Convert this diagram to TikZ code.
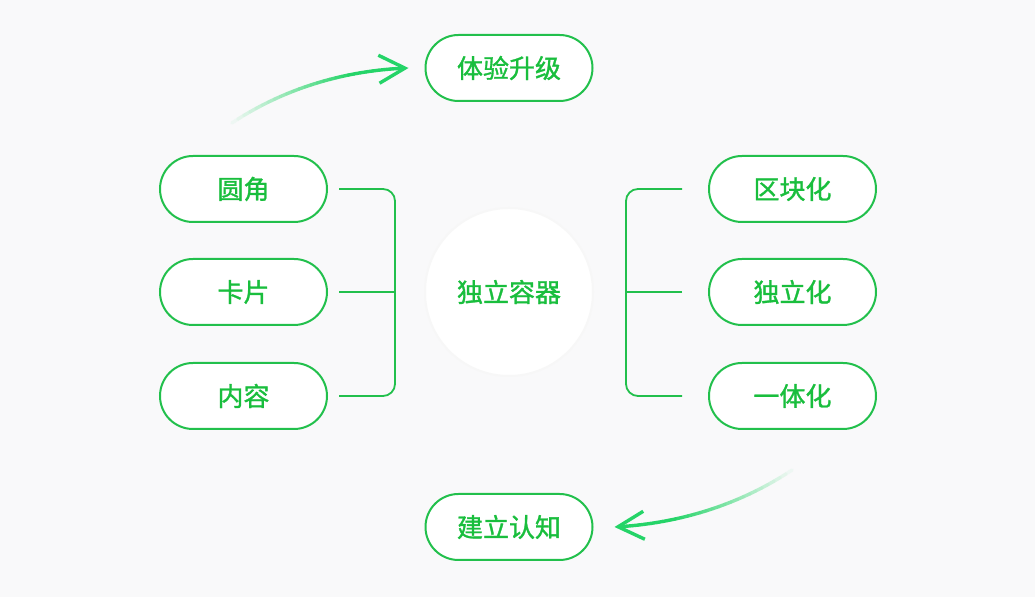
\documentclass[tikz,border=0pt]{standalone}
\usepackage{fontspec}
\newfontfamily\cjk[AutoFakeBold=1.2]{Noto Sans CJK SC}
\usetikzlibrary{arrows.meta}
\definecolor{bg}{HTML}{F9F9FA}
\definecolor{leaf}{HTML}{22C04C}
\definecolor{ink}{HTML}{19BE3D}
\definecolor{mint}{HTML}{25D468}

\begin{document}
\begin{tikzpicture}[x=0.5pt, y=-0.5pt, font=\cjk\bfseries\fontsize{13}{15}\selectfont]
    % Set up styles for the boxes and lines
    \tikzstyle{pill} = [draw=leaf, line width=1pt, fill=white, text=ink, minimum width=83.5pt, minimum height=33pt, rounded corners=16.5pt, inner sep=0pt]
    \tikzstyle{hub} = [circle, fill=white, draw=black!3, line width=1pt, text=ink, minimum size=84pt, inner sep=0pt]
    \tikzstyle{bracket} = [leaf, line width=0.9pt, rounded corners=6pt]
    \tikzstyle{sweep} = [line width=1.7pt, line cap=round]

    % Background
    \fill[bg] (0,0) rectangle (1035,597);
    \useasboundingbox (0,0) rectangle (1035,597);

    % The centre
    \node[hub] (core) at (509,292) {独立容器};

    % Left column
    \node[pill] (yj) at (243.5,189) {圆角};
    \node[pill] (kp) at (243.5,292) {卡片};
    \node[pill] (nr) at (243.5,396) {内容};

    % Right column
    \node[pill] (qk) at (792.5,189) {区块化};
    \node[pill] (dl) at (792.5,292) {独立化};
    \node[pill] (yt) at (792.5,396) {一体化};

    % Top and bottom
    \node[pill] (ty) at (509,68) {体验升级};
    \node[pill] (jl) at (509,527) {建立认知};

    % Brackets
    \coordinate (lbar) at (395,292);
    \coordinate (rbar) at (626,292);
    \draw[bracket] ([xshift=5.5pt]yj.east) -| (lbar) |- ([xshift=5.5pt]nr.east);
    \draw[bracket] ([xshift=5.5pt]kp.east) -- (lbar);
    \draw[bracket] ([xshift=-13pt]qk.west) -| (rbar) |- ([xshift=-13pt]yt.west);
    \draw[bracket] ([xshift=-13pt]dl.west) -- (rbar);

    % Fading arrow up to the top box
    \coordinate (ua) at (226,127);
    \path (ua) .. controls (285,86) and (350,70) .. ([xshift=-8pt]ty.west)
        foreach \i in {0,...,30} {coordinate[pos=\i/30] (u\i)};
    \foreach \i in {0,...,28} {
        \pgfmathtruncatemacro\j{\i+1}
        \pgfmathtruncatemacro\p{min(100,\i*5)}
        \draw[sweep, mint!\p!bg] (u\i) -- (u\j);
    }
    \draw[sweep, mint, -{Straight Barb[length=13pt, width=14pt]}] (u29) -- (u30);

    % Fading arrow down to the bottom box
    \coordinate (da) at (798,466);
    \path (da) .. controls (739,507) and (674,524) .. ([xshift=10.5pt]jl.east)
        foreach \i in {0,...,30} {coordinate[pos=\i/30] (d\i)};
    \foreach \i in {0,...,28} {
        \pgfmathtruncatemacro\j{\i+1}
        \pgfmathtruncatemacro\p{min(100,\i*5)}
        \draw[sweep, mint!\p!bg] (d\i) -- (d\j);
    }
    \draw[sweep, mint, -{Straight Barb[length=13pt, width=14pt]}] (d29) -- (d30);

\end{tikzpicture}
\end{document}
